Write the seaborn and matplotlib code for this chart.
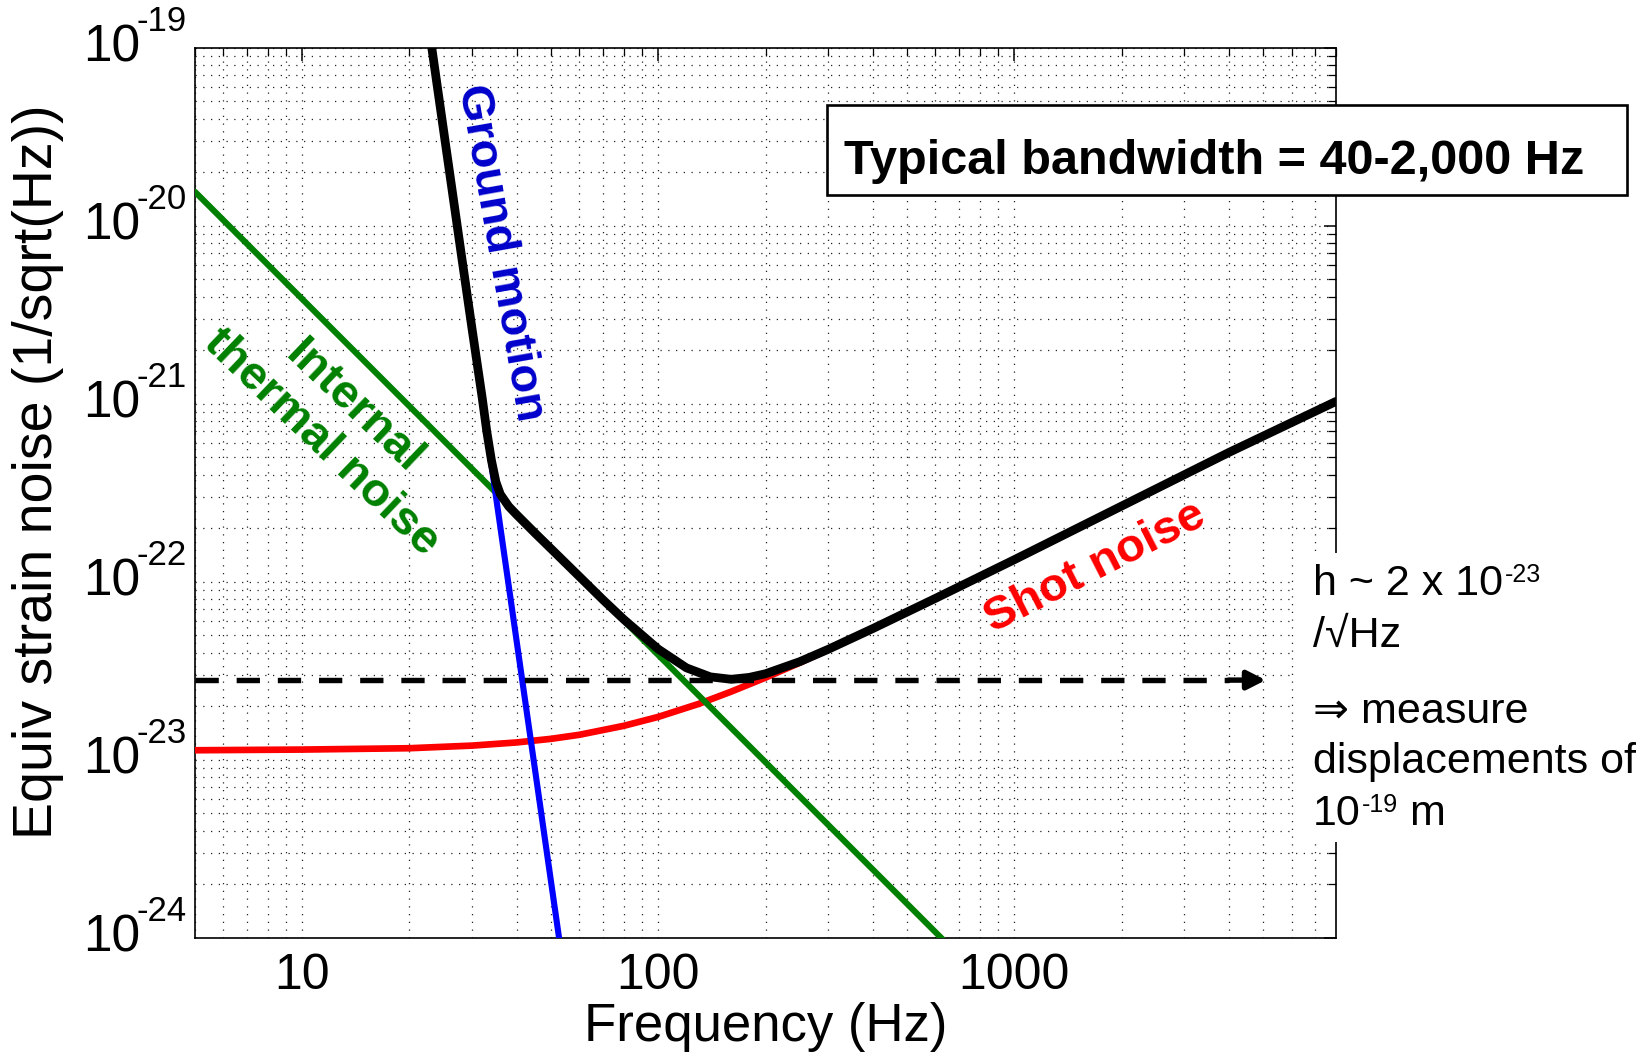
import numpy as np
import pandas as pd
import matplotlib
matplotlib.use("Agg")
import matplotlib.pyplot as plt
from matplotlib.patches import Rectangle
from matplotlib.ticker import NullFormatter, LogLocator
import seaborn as sns

# ---------------- data ----------------
freq_ground = [22, 55]
ground_motion = [2.0e-19, 5.4e-25]

freq_thermal = [5, 700]
thermal_noise = [1.55e-20, 7.9e-25]

freq_shot = [5, 10, 20, 30, 40, 50, 60, 80, 100, 130, 160, 200, 250, 300,
             400, 600, 1000, 2000, 4000, 8000]
shot_noise = [1.13e-23, 1.14e-23, 1.16e-23, 1.20e-23, 1.25e-23, 1.31e-23,
              1.38e-23, 1.55e-23, 1.74e-23, 2.06e-23, 2.41e-23, 2.89e-23,
              3.51e-23, 4.15e-23, 5.44e-23, 8.06e-23, 1.33e-22, 2.66e-22,
              5.32e-22, 1.03e-21]

freq_total = [22, 25, 28, 30, 32, 33, 34, 35, 36, 38, 40, 45, 50, 60, 70, 80,
              100, 120, 140, 160, 180, 200, 250, 300, 400, 600, 1000, 2000,
              4000, 8000]
total_noise = [2.0e-19, 3.33e-20, 6.82e-21, 2.62e-21, 1.09e-21, 6.95e-22,
               4.8e-22, 3.63e-22, 3.1e-22, 2.65e-22, 2.38e-22, 1.88e-22,
               1.53e-22, 1.07e-22, 7.9e-23, 6.14e-23, 4.18e-23, 3.28e-23,
               2.92e-23, 2.83e-23, 2.90e-23, 3.04e-23, 3.56e-23, 4.17e-23,
               5.45e-23, 8.06e-23, 1.33e-22, 2.66e-22, 5.32e-22, 1.03e-21]

sensitivity_freq = [5, 4000]
sensitivity_level = [2.8e-23, 2.8e-23]
arrow_tip_freq = 5080

xticks = [10, 100, 1000]
xtick_labels = ["10", "100", "1000"]
yticks = [1e-19, 1e-20, 1e-21, 1e-22, 1e-23, 1e-24]
ytick_exponents = ["-19", "-20", "-21", "-22", "-23", "-24"]

# ---------------- style ----------------
sns.set_theme(style="white")
plt.rcParams["font.family"] = ["Liberation Sans", "DejaVu Sans"]
for key in ["text.color", "axes.labelcolor", "xtick.color", "ytick.color",
            "axes.edgecolor"]:
    plt.rcParams[key] = "black"

W, H = 1651, 1058
fig = plt.figure(figsize=(W / 100, H / 100), dpi=100)
fig.patch.set_facecolor("white")
ax = fig.add_axes([195 / W, 1 - 937.7 / H, (1336 - 195) / W, (937.7 - 47.7) / H])
ax.set_facecolor("white")

df_shot = pd.DataFrame({"f": freq_shot, "v": shot_noise})
df_th = pd.DataFrame({"f": freq_thermal, "v": thermal_noise})
df_gr = pd.DataFrame({"f": freq_ground, "v": ground_motion})
df_tot = pd.DataFrame({"f": freq_total, "v": total_noise})

sns.lineplot(data=df_shot, x="f", y="v", ax=ax, color="#FF0000", linewidth=4.8, zorder=3)
sns.lineplot(data=df_th, x="f", y="v", ax=ax, color="#008000", linewidth=4.4, zorder=4)
sns.lineplot(data=df_gr, x="f", y="v", ax=ax, color="#0000FF", linewidth=4.4, zorder=5)
sns.lineplot(data=df_tot, x="f", y="v", ax=ax, color="black", linewidth=6.3, zorder=6)

ax.plot(sensitivity_freq, sensitivity_level, color="black", linewidth=3.9,
        linestyle=(0, (4.3, 3.3)), zorder=7)
ax.annotate("", xy=(arrow_tip_freq, sensitivity_level[0]),
            xytext=(sensitivity_freq[-1], sensitivity_level[0]),
            arrowprops=dict(arrowstyle="-|>,head_length=0.55,head_width=0.28",
                            color="black", lw=3.9, mutation_scale=20,
                            shrinkA=0, shrinkB=0), zorder=7)

ax.set_xscale("log")
ax.set_yscale("log")
ax.set_xlim(5, 8000)
ax.set_ylim(1e-24, 1e-19)

ax.set_xticks(xticks)
ax.set_xticklabels(xtick_labels, fontsize=36)
ax.xaxis.set_minor_locator(LogLocator(base=10, subs=np.arange(2, 10), numticks=50))
ax.yaxis.set_minor_locator(LogLocator(base=10, subs=np.arange(2, 10), numticks=50))
ax.xaxis.set_minor_formatter(NullFormatter())
ax.yaxis.set_minor_formatter(NullFormatter())
ax.set_yticks(yticks)
ax.set_yticklabels([""] * len(yticks))

ax.tick_params(which="both", direction="in", top=True, right=True, color="black")
ax.tick_params(which="major", length=9, width=1.1)
ax.tick_params(which="minor", length=5.5, width=0.9)
ax.tick_params(axis="x", which="major", pad=11)

ax.grid(True, which="both", linestyle=(0, (1, 5.2)), color="#222222", linewidth=0.9)
for s in ax.spines.values():
    s.set_color("black")
    s.set_linewidth(1.2)
    s.set_visible(True)

# y tick labels: "10" with a superscript exponent
for v, e in zip(yticks, ytick_exponents):
    ax.annotate("10", xy=(0, v), xycoords=("axes fraction", "data"),
                xytext=(-39.6, 0), textcoords="offset points",
                ha="right", va="center", fontsize=37, annotation_clip=False)
    ax.annotate(e, xy=(0, v), xycoords=("axes fraction", "data"),
                xytext=(-5.8, 19.2), textcoords="offset points",
                ha="right", va="center", fontsize=25, annotation_clip=False)

ax.set_xlabel("Frequency (Hz)", fontsize=38, va="center")
ax.xaxis.set_label_coords(0.5, -0.1003)
ax.set_ylabel("Equiv strain noise (1/sqrt(Hz))", fontsize=40, va="center")
ax.yaxis.set_label_coords(-0.1375, 0.524)

# curve labels
ax.text(36, 7.0e-21, "Ground motion", color="#0000CC", fontsize=34,
        fontweight="bold", rotation=-80, ha="center", va="center", zorder=8)
ax.text(12.6, 7.6e-22, "Internal\nthermal noise", color="#008000", fontsize=34,
        fontweight="bold", rotation=-43.7, ha="center", va="center",
        multialignment="center", linespacing=1.1, zorder=8)
ax.text(1690, 1.21e-22, "Shot noise", color="#FF0000", fontsize=34,
        fontweight="bold", rotation=27, ha="center", va="center", zorder=8)

# bandwidth box
fig.patches.append(Rectangle((827 / W, 1 - 195 / H), 800 / W, 90 / H,
                             transform=fig.transFigure, facecolor="white",
                             edgecolor="black", linewidth=1.9, zorder=2))
fig.text(1214.5 / W, 1 - 174 / H, "Typical bandwidth = 40-2,000 Hz",
         fontsize=35, fontweight="bold", ha="center", va="baseline", zorder=3)

# right-hand note on a white background
fig.patches.append(Rectangle((1295 / W, 1 - 842 / H), 1 - 1295 / W, (842 - 553) / H,
                             transform=fig.transFigure, facecolor="white",
                             edgecolor="none", zorder=2))

renderer = fig.canvas.get_renderer()
NOTE_FS = 31
SUP_FS = 18
x0 = 1313 / W


def note_line(baseline_px, parts):
    """parts: list of (text, is_superscript)"""
    x = x0
    for txt, sup in parts:
        y = 1 - (baseline_px - (13 if sup else 0)) / H
        t = fig.text(x, y, txt, fontsize=SUP_FS if sup else NOTE_FS,
                     ha="left", va="baseline", zorder=3)
        bb = t.get_window_extent(renderer)
        x = bb.x1 / W + (1.5 / W if not sup else 0)


note_line(595, [("h ~ 2 x 10", False), ("-23", True)])
note_line(647, [("/\u221aHz", False)])
note_line(723, [("\u21d2 measure", False)])
note_line(773, [("displacements of", False)])
note_line(825, [("10", False), ("-19", True), (" m", False)])

fig.savefig("out.png", dpi=100, facecolor="white")
